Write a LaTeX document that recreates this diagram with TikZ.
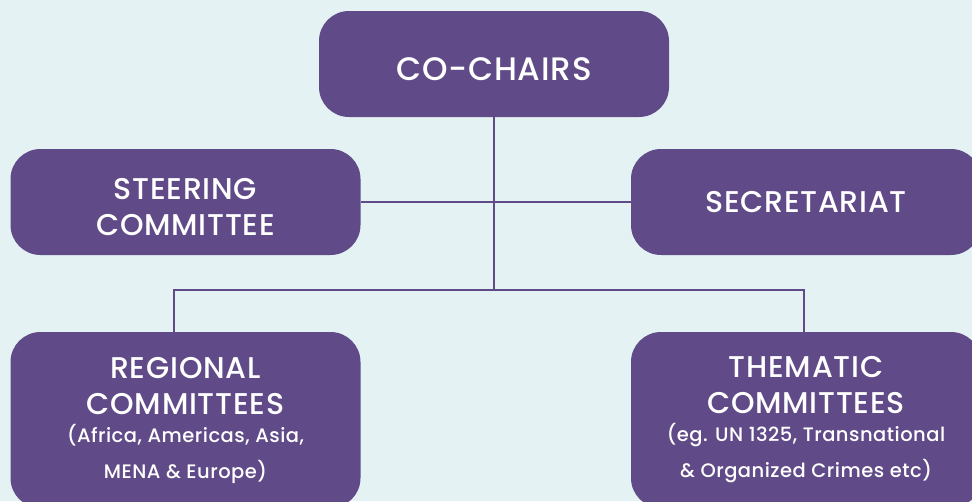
\documentclass[tikz,border=0pt]{standalone}
\usepackage{fontspec}
\setmainfont{Poppins}[UprightFont=* Medium, LetterSpace=2.5]
\definecolor{bgblue}{HTML}{E4F2F4}
\definecolor{board}{HTML}{604B88}
\newcommand{\smalltext}{\fontsize{19.5}{35}\selectfont}
\tikzset{
  unit/.style={fill=board, text=white, rounded corners=30pt, minimum width=350pt,
    outer sep=0pt, align=center, font=\fontsize{30}{36}\selectfont},
  link/.style={draw=board, line width=1.6pt}
}
\begin{document}
\begin{tikzpicture}[x=1pt,y=-1pt]
  \fill[bgblue] (0,0) rectangle (972,501);
  \useasboundingbox (0,0) rectangle (972,501);
  \node (chairs) [unit, minimum height=106pt, font=\fontsize{32.5}{36}\selectfont] at (494,64) {\rule{0pt}{33pt}CO-CHAIRS};
  \node (steering) [unit, minimum height=106pt] at (185.5,202) {\rule{0pt}{31pt}STEERING\\COMMITTEE};
  \node (secretariat) [unit, minimum height=106pt] at (806,202) {SECRETARIAT};
  \node (regional) [unit, minimum height=176pt] at (185.5,420)
        {REGIONAL\\COMMITTEES\\[-8pt]{\smalltext (Africa, Americas, Asia,}\\{\smalltext MENA \& Europe)}};
  \node (thematic) [unit, minimum height=176pt] at (806,420)
        {THEMATIC\\COMMITTEES\\[-8pt]{\smalltext (eg. UN 1325, Transnational}\\{\smalltext \& Organized Crimes etc)}};
  \coordinate (bus) at (494,290);
  \draw[link] (chairs.south) -- (bus);
  \draw[link] (steering.east) -- (secretariat.west);
  \draw[link] ([xshift=-11.5pt]regional.north) |- (bus) -| ([xshift=-2pt]thematic.north);
\end{tikzpicture}
\end{document}
